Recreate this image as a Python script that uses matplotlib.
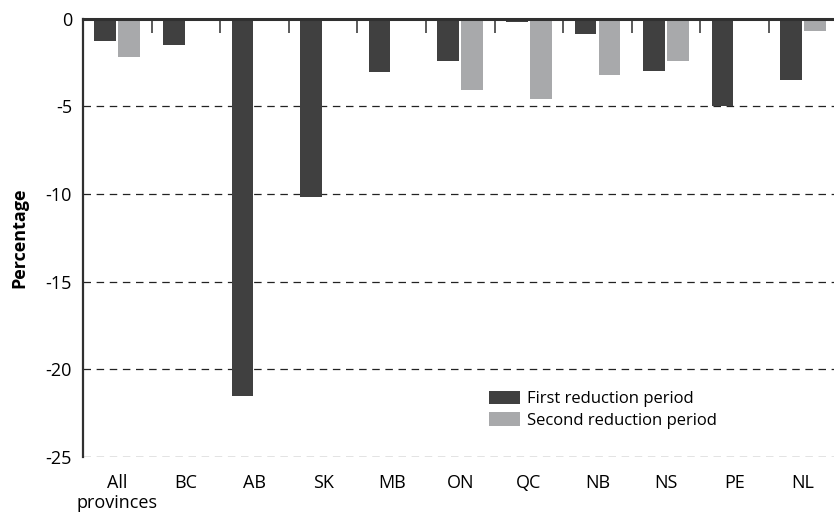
import matplotlib
matplotlib.use("Agg")
import matplotlib.pyplot as plt
import numpy as np
from matplotlib.ticker import FixedLocator

plt.rcParams['font.family'] = ['Open Sans', 'DejaVu Sans']

categories = ["All\nprovinces", "BC", "AB", "SK", "MB", "ON", "QC", "NB", "NS", "PE", "NL"]
first_period = [-1.3, -1.5, -21.5, -10.2, -3.05, -2.4, -0.2, -0.9, -3.0, -5.0, -3.5]
second_period = [-2.2, 0.0, 0.0, 0.0, 0.0, -4.1, -4.6, -3.2, -2.4, 0.0, -0.7]
yticks = [0, -5, -10, -15, -20, -25]
series_names = ["First reduction period", "Second reduction period"]

fig = plt.figure(figsize=(8.34, 5.14), dpi=100)
ax = fig.add_axes([83/834, 1 - 457/514, 1 - 83/834, (457 - 18.5)/514])

x = np.arange(len(categories))
w = 0.315
off = 0.175
ax.bar(x - off, first_period, width=w, color="#404040", label=series_names[0], zorder=3)
ax.bar(x + off, second_period, width=w, color="#a8a9ab", label=series_names[1], zorder=3)

ax.set_xlim(-0.5, 10.45)
ax.set_ylim(-25, 0)
ax.set_yticks(yticks)
ax.set_yticklabels([str(t) for t in yticks], fontsize=13)
ax.set_xticks(x)
ax.set_xticklabels(categories, fontsize=13)
ax.tick_params(axis='x', which='major', length=0, pad=12)
ax.tick_params(axis='y', which='major', length=0, pad=8)
ax.xaxis.set_minor_locator(FixedLocator(x[:-1] + 0.5))
ax.tick_params(axis='x', which='minor', bottom=False, top=True, direction='in',
               length=10, width=1.2, color="#404040")

for t in yticks[1:]:
    ax.axhline(t, color="#222222", lw=0.9, ls=(0, (6, 4.5)), zorder=1)

ax.spines['right'].set_visible(False)
ax.spines['bottom'].set_visible(False)
ax.spines['top'].set_linewidth(2.2)
ax.spines['top'].set_color("#303030")
ax.spines['top'].set_zorder(4)
ax.spines['left'].set_linewidth(1.6)
ax.spines['left'].set_color("#303030")

ax.set_ylabel("Percentage", fontsize=13, fontweight='bold', labelpad=12)

ax.legend(loc='lower left', bbox_to_anchor=(0.52, 0.03), frameon=False, fontsize=12,
          handlelength=1.9, handleheight=0.9, handletextpad=0.4, labelspacing=0.3)

fig.savefig("out.png", dpi=100)
